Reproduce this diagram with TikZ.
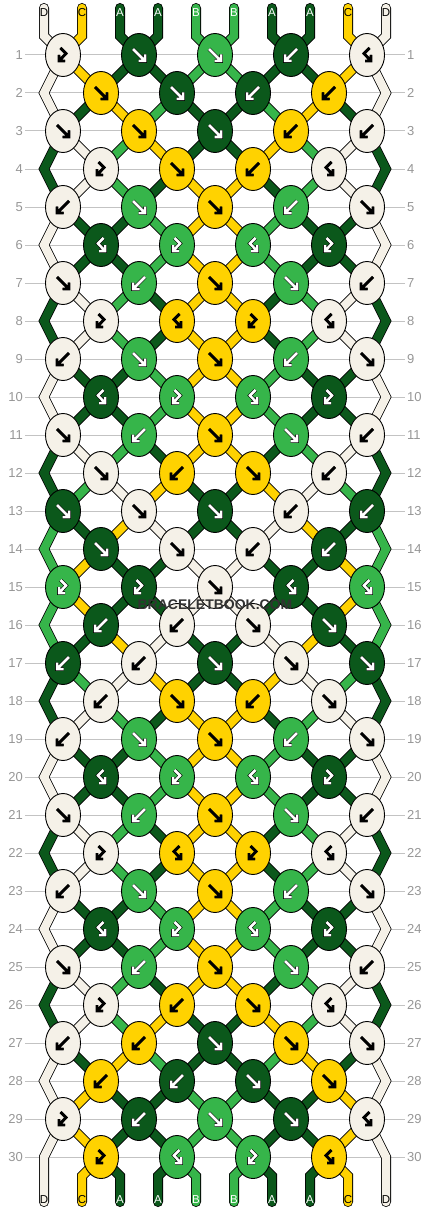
\documentclass[tikz,border=0pt]{standalone}
\usepackage{fontspec}
\setmainfont{Liberation Sans}
\usepackage{tikz}
\usetikzlibrary{shapes.geometric,backgrounds}
\usepackage{xcolor}
\definecolor{thrD}{RGB}{245,241,232}
\definecolor{thrC}{RGB}{255,210,0}
\definecolor{thrA}{RGB}{11,88,27}
\definecolor{thrB}{RGB}{54,181,74}
\colorlet{inkD}{black}
\colorlet{inkC}{black}
\colorlet{inkA}{white}
\colorlet{inkB}{white}
% inner width of the arrow glyphs
\def\gwD{1.7pt}
\def\gwC{1.7pt}
\def\gwA{2.5pt}
\def\gwB{2.5pt}
\definecolor{rowgray}{RGB}{150,150,150}
\definecolor{linegray}{RGB}{195,195,195}
\definecolor{markgray}{RGB}{50,50,50}
\tikzstyle{rownum} = [text=rowgray, font=\fontsize{13}{13}\selectfont, inner sep=2pt]
\tikzstyle{rowline} = [draw=linegray, line width=1pt]
\tikzstyle{watermark} = [text=markgray, font=\bfseries\fontsize{14}{14}\selectfont, inner sep=1pt]
\tikzset{
  thread/.style={draw=black, line width=0.8pt, double=thr#1, double distance=8.4pt},
  knot/.style={ellipse, draw=black, line width=0.9pt, fill=thr#1, minimum width=35pt, minimum height=43pt, inner sep=0pt},
  glyph/.style={draw=black, line width=0.6pt, double=ink#1, double distance=\csname gw#1\endcsname},
  strlabel/.style={text=ink#1, font=\fontsize{11.5}{11.5}\selectfont, inner sep=0pt}
}
% arrow glyphs of the four knot types
\newcommand{\glF}{(-6,-6) -- (6,6) (-0.5,6) -- (6,6) -- (6,-0.5)}
\newcommand{\glB}{(6,-6) -- (-6,6) (0.5,6) -- (-6,6) -- (-6,-0.5)}
\newcommand{\glfb}{(-2.5,-7) -- (3,-1.5) -- (-4,6) (-4,0) -- (-4,6) -- (2,6)}
\newcommand{\glbf}{(2.5,-7) -- (-3,-1.5) -- (4,6) (4,0) -- (4,6) -- (-2,6)}

\begin{document}
\begin{tikzpicture}[x=1pt, y=-1pt]
\useasboundingbox (0,0) rectangle (430,1212);

% Row numbers and guide lines
\foreach \r in {1,...,30} {
  \pgfmathsetmacro\ky{55+38*(\r-1)}
  \node[rownum, anchor=east] (nl\r) at (25,\ky) {\r};
  \node[rownum, anchor=west] (nr\r) at (405,\ky) {\r};
  \begin{pgfonlayer}{background}
    \draw[rowline] (nl\r) -- (nr\r);
  \end{pgfonlayer}
}

% Knots (colour/type)
\foreach \r/\knots in {
  1/{D/fb,A/F,B/F,A/B,D/bf},
  2/{C/F,A/F,A/B,C/B},
  3/{D/F,C/F,A/F,C/B,D/B},
  4/{D/fb,C/F,C/B,D/bf},
  5/{D/B,B/F,C/F,B/B,D/F},
  6/{A/bf,B/fb,B/bf,A/fb},
  7/{D/F,B/B,C/F,B/F,D/B},
  8/{D/fb,C/bf,C/fb,D/bf},
  9/{D/B,B/F,C/F,B/B,D/F},
  10/{A/bf,B/fb,B/bf,A/fb},
  11/{D/F,B/B,C/F,B/F,D/B},
  12/{D/F,C/B,C/F,D/B},
  13/{A/F,D/F,A/F,D/B,A/B},
  14/{A/F,D/F,D/B,A/B},
  15/{B/fb,A/fb,D/F,A/bf,B/bf},
  16/{A/B,D/B,D/F,A/F},
  17/{A/B,D/B,A/F,D/F,A/F},
  18/{D/B,C/F,C/B,D/F},
  19/{D/B,B/F,C/F,B/B,D/F},
  20/{A/bf,B/fb,B/bf,A/fb},
  21/{D/F,B/B,C/F,B/F,D/B},
  22/{D/fb,C/bf,C/fb,D/bf},
  23/{D/B,B/F,C/F,B/B,D/F},
  24/{A/bf,B/fb,B/bf,A/fb},
  25/{D/F,B/B,C/F,B/F,D/B},
  26/{D/fb,C/B,C/F,D/bf},
  27/{D/B,C/B,A/F,C/F,D/F},
  28/{C/B,A/B,A/F,C/F},
  29/{D/fb,A/B,B/F,A/F,D/bf},
  30/{C/fb,B/bf,B/fb,C/bf}} {
  \pgfmathsetmacro\ky{55+38*(\r-1)}
  \pgfmathsetmacro\kx{mod(\r,2)==1 ? 63 : 101}
  \foreach \c/\t [count=\k from 0] in \knots {
    \node[knot=\c] (k\r-\k) at ({\kx+76*\k},\ky) {};
    \expandafter\let\expandafter\glpath\csname gl\t\endcsname
    \draw[glyph=\c, shift={(k\r-\k.center)}] \glpath;
  }
}

% Edge turns and thread ends
\foreach \r in {2,4,...,30} {
  \pgfmathsetmacro\ky{55+38*(\r-1)}
  \coordinate (el\r) at (44,\ky);
  \coordinate (er\r) at (386,\ky);
}
\foreach \c [count=\p from 0] in {D,C,A,A,B,B,A,A,C,D} {
  \pgfmathsetmacro\bx{44+38*\p}
  \coordinate (top\p) at (\bx,8);
  \coordinate (topb\p) at (\bx,36);
  \coordinate (botb\p) at (\bx,1176);
  \coordinate (bot\p) at (\bx,1202);
}

% Threads
\begin{scope}[on background layer]
\foreach \c [count=\p from 0] in {D,C,A,A,B,B,A,A,C,D} {
  \pgfmathtruncatemacro\ka{int(\p/2)}
  \draw[thread=\c, line cap=round] (top\p) -- (topb\p) -- (k1-\ka.center);
}
\foreach \r/\st in {
  1/{D,C,A,A,B,B,A,A,C,D},
  2/{D,A,C,B,A,A,B,C,A,D},
  3/{A,D,B,C,A,A,C,B,D,A},
  4/{A,D,B,A,C,C,A,B,D,A},
  5/{D,A,A,B,C,C,B,A,A,D},
  6/{D,A,A,B,C,C,B,A,A,D},
  7/{A,D,B,A,C,C,A,B,D,A},
  8/{A,D,B,A,C,C,A,B,D,A},
  9/{D,A,A,B,C,C,B,A,A,D},
  10/{D,A,A,B,C,C,B,A,A,D},
  11/{A,D,B,A,C,C,A,B,D,A},
  12/{A,B,D,C,A,A,C,D,B,A},
  13/{B,A,C,D,A,A,D,C,A,B},
  14/{B,C,A,A,D,D,A,A,C,B},
  15/{B,C,A,A,D,D,A,A,C,B},
  16/{B,A,C,D,A,A,D,C,A,B},
  17/{A,B,D,C,A,A,C,D,B,A},
  18/{A,D,B,A,C,C,A,B,D,A},
  19/{D,A,A,B,C,C,B,A,A,D},
  20/{D,A,A,B,C,C,B,A,A,D},
  21/{A,D,B,A,C,C,A,B,D,A},
  22/{A,D,B,A,C,C,A,B,D,A},
  23/{D,A,A,B,C,C,B,A,A,D},
  24/{D,A,A,B,C,C,B,A,A,D},
  25/{A,D,B,A,C,C,A,B,D,A},
  26/{A,D,B,C,A,A,C,B,D,A},
  27/{D,A,C,B,A,A,B,C,A,D},
  28/{D,C,A,A,B,B,A,A,C,D},
  29/{D,C,A,A,B,B,A,A,C,D}} {
  \pgfmathtruncatemacro\rn{\r+1}
  \pgfmathtruncatemacro\rnn{\r+2}
  \pgfmathtruncatemacro\odd{mod(\r,2)}
  \foreach \c [count=\p from 0] in \st {
    \ifnum\p=0
      \ifnum\odd=1
        \ifnum\r=29 \draw[thread=\c, line cap=round] (k29-0.center) -- (el30) -- (bot0);
        \else \draw[thread=\c] (k\r-0.center) -- (el\rn) -- (k\rnn-0.center); \fi
      \fi
    \else\ifnum\p=9
      \ifnum\odd=1
        \ifnum\r=29 \draw[thread=\c, line cap=round] (k29-4.center) -- (er30) -- (bot9);
        \else \draw[thread=\c] (k\r-4.center) -- (er\rn) -- (k\rnn-4.center); \fi
      \fi
    \else
      \pgfmathtruncatemacro\ka{\odd==1 ? int(\p/2) : int((\p-1)/2)}
      \pgfmathtruncatemacro\kb{\odd==1 ? int((\p-1)/2) : int(\p/2)}
      \draw[thread=\c] (k\r-\ka.center) -- (k\rn-\kb.center);
    \fi\fi
  }
}
\foreach \c [count=\p from 1] in {C,A,A,B,B,A,A,C} {
  \pgfmathtruncatemacro\kb{int((\p-1)/2)}
  \draw[thread=\c, line cap=round] (k30-\kb.center) -- (botb\p) -- (bot\p);
}
\end{scope}

% Thread letters
\foreach \c [count=\p from 0] in {D,C,A,A,B,B,A,A,C,D} {
  \pgfmathsetmacro\bx{44+38*\p}
  \node[strlabel=\c] (lt\p) at (\bx,13) {\c};
  \node[strlabel=\c] (lb\p) at (\bx,1200) {\c};
}

\node[watermark] (brand) at (215,605) {BRACELETBOOK.COM};
\end{tikzpicture}
\end{document}
